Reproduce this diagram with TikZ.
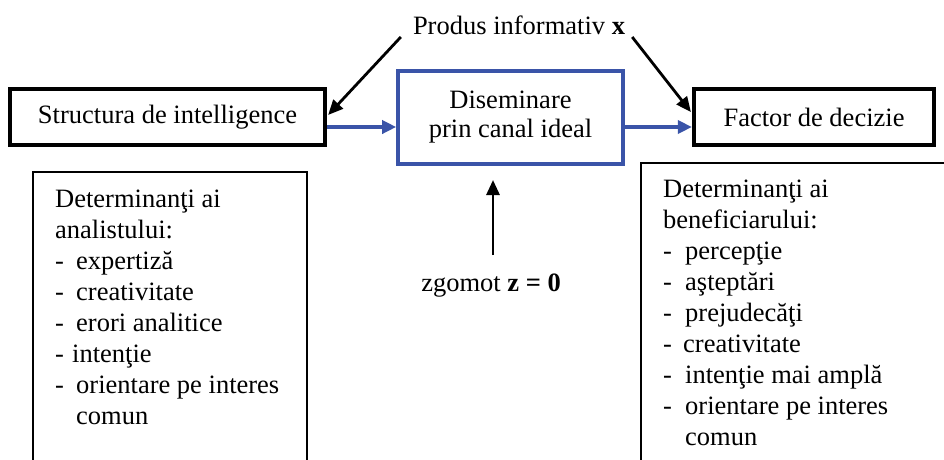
\documentclass[tikz,border=0pt]{standalone}
\usepackage{fontspec}
\setmainfont{Liberation Serif}
\usetikzlibrary{arrows.meta,calc}
\definecolor{chanblue}{RGB}{58,84,168}
\begin{document}
\begin{tikzpicture}[x=1pt,y=-1pt,
  every node/.style={font=\fontsize{26.5pt}{31pt}\selectfont, inner sep=0pt},
  thickbox/.style={draw=black, line width=4.2pt, align=center},
  bluebox/.style={draw=chanblue, line width=3.6pt, align=center, font=\fontsize{26.5pt}{29pt}\selectfont},
  bluearrow/.style={draw=chanblue, line width=3.4pt, -{Triangle[length=14pt,width=13pt]}},
  blackarrow/.style={draw=black, line width=2.8pt, -{Triangle[length=15pt,width=13pt]}},
  detline/.style={draw=black, line width=2pt},
  dettext/.style={align=left, anchor=north west}]
\useasboundingbox (0,0) rectangle (944,459);

% main boxes
\node[thickbox, minimum width=315pt, minimum height=56pt] (struct) at (167.5,117) {Structura de intelligence};
\node[bluebox, minimum width=225pt, minimum height=93pt] (diss) at (510.5,117.5) {Diseminare\\prin canal ideal};
\node[thickbox, minimum width=240pt, minimum height=56pt] (fact) at (814,117) {Factor de decizie};

% top label
\node (prod) at (519,25) {Produs informativ \textbf{x}};

% noise label
\node (zg) at (491,286) {zgomot \textbf{z = 0}};

% blue flow arrows
\coordinate (ay) at (0,127);
\draw[bluearrow] (struct.east |- ay) -- (diss.west |- ay);
\draw[bluearrow] (diss.east |- ay) -- (fact.west |- ay);

% black diagonal arrows
\draw[blackarrow] ($(prod.west)+(-12,12)$) -- ($(struct.east)+(1,-2)$);
\draw[blackarrow] ($(prod.east)+(7,12)$) -- ($(fact.west)+(-1,-5)$);

% noise arrow
\coordinate (ntail) at (493,255);
\coordinate (nhead) at (493,180);
\draw[blackarrow] (ntail) -- (nhead);

% determinant boxes (open at the bottom)
\draw[detline] (33,470) -- (33,172) -- (307,172) -- (307,470);
\draw[detline] (641,470) -- (641,163) -- (960,163);

\node[dettext] (detL) at (55,190) {Determinanţi ai\\
analistului:\\
\makebox[21pt][l]{-}expertiză\\
\makebox[21pt][l]{-}creativitate\\
\makebox[21pt][l]{-}erori analitice\\
\makebox[17pt][l]{-}intenţie\\
\makebox[21pt][l]{-}orientare pe interes\\
\hspace*{21pt}comun};

\node[dettext] (detR) at (663,180) {Determinanţi ai\\
beneficiarului:\\
\makebox[22pt][l]{-}percepţie\\
\makebox[22pt][l]{-}aşteptări\\
\makebox[22pt][l]{-}prejudecăţi\\
\makebox[20pt][l]{-}creativitate\\
\makebox[22pt][l]{-}intenţie mai amplă\\
\makebox[22pt][l]{-}orientare pe interes\\
\hspace*{22pt}comun};
\end{tikzpicture}
\end{document}
